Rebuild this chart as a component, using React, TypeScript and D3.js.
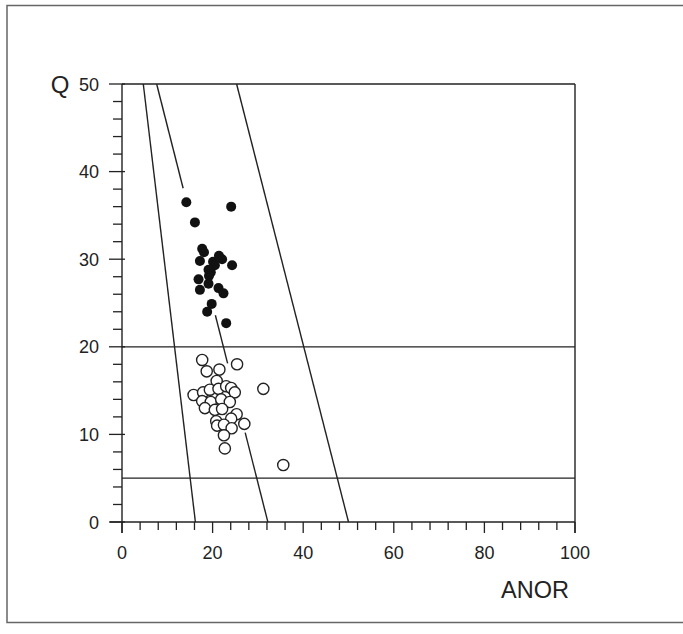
import React from "react";
import * as d3 from "d3";

// Filled symbols (Q > 20)
const filledANOR = [14.2, 24.1, 16.1, 17.7, 18.1, 17.2, 20.1, 21.4, 22.1, 24.3, 20.5, 19.6, 19.1, 16.9, 19.1, 17.2, 21.3, 22.4, 19.8, 18.8, 23.0, 19.2];
const filledQ = [36.5, 36.0, 34.2, 31.2, 30.8, 29.8, 29.7, 30.4, 30.0, 29.3, 29.3, 28.5, 28.8, 27.7, 27.2, 26.5, 26.7, 26.1, 24.9, 24.0, 22.7, 28.1];

// Open symbols (Q < 20)
const openANOR = [17.7, 25.4, 18.7, 21.5, 20.9, 15.8, 17.9, 19.4, 21.3, 23.0, 24.1, 24.9, 31.2, 17.7, 19.6, 21.9, 23.8, 18.3, 20.5, 22.1, 25.3, 20.8, 24.1, 21.0, 22.5, 27.0, 24.2, 22.5, 22.7, 35.6];
const openQ = [18.5, 18.0, 17.2, 17.4, 16.1, 14.5, 14.8, 15.1, 15.2, 15.5, 15.3, 14.8, 15.2, 13.8, 13.7, 14.0, 13.7, 13.0, 12.8, 12.9, 12.3, 11.5, 11.8, 11.0, 11.1, 11.2, 10.7, 9.9, 8.4, 6.5];

// Field boundary lines: [ANOR at Q=50, ANOR at Q=0], visible Q ranges
const boundaryTop = [4.7, 7.65, 25.3];
const boundaryBottom = [16.2, 32.2, 50.0];
const boundaryVisible: number[][][] = [
  [[0, 50]],
  [[38.1, 50], [18.1, 23.6], [0, 10.2]],
  [[0, 50]],
];
const horizontalQ = [20, 5];

const xTickLabels = [0, 20, 40, 60, 80, 100];
const yTickLabels = [0, 10, 20, 30, 40, 50];

export default function App() {
  const W = 683, H = 634;
  const x = d3.scaleLinear().domain([0, 100]).range([122, 575]);
  const y = d3.scaleLinear().domain([0, 50]).range([522, 84]);
  const ink = "#222";
  const font = "'Liberation Sans', Arial, Helvetica, sans-serif";
  const line = d3.line<[number, number]>().x(d => x(d[0])).y(d => y(d[1]));

  const xMinor = d3.range(0, 101, 4).filter(v => v % 20 !== 0);
  const yMinor = d3.range(0, 51, 2).filter(v => v % 10 !== 0);

  const segs: [number, number][][] = [];
  boundaryTop.forEach((t, i) => {
    const b = boundaryBottom[i];
    const at = (q: number) => b + (t - b) * q / 50;
    boundaryVisible[i].forEach(([q0, q1]) => {
      segs.push([[at(q0), q0], [at(q1), q1]]);
    });
  });

  return (
    <svg width={W} height={H} style={{ position: "absolute", left: 0, top: 0, background: "#fff" }}>
      {/* outer frame */}
      <rect x={7} y={5.5} width={690} height={617} fill="none" stroke="#666" strokeWidth={1.5} />

      {/* plot box */}
      <line x1={x(0)} y1={y(50)} x2={x(100)} y2={y(50)} stroke={ink} strokeWidth={1.4} />
      <line x1={x(100)} y1={y(50)} x2={x(100)} y2={y(0) + 11} stroke={ink} strokeWidth={1.4} />
      <line x1={x(0)} y1={y(50)} x2={x(0)} y2={y(0) + 11} stroke={ink} strokeWidth={1.4} />
      <line x1={x(0) - 12} y1={y(0)} x2={x(100)} y2={y(0)} stroke={ink} strokeWidth={1.4} />

      {/* x ticks */}
      {xMinor.map(v => (
        <line key={"xm" + v} x1={x(v)} x2={x(v)} y1={y(0)} y2={y(0) + 8} stroke={ink} strokeWidth={1.3} />
      ))}
      {xTickLabels.map(v => (
        <g key={"xM" + v}>
          <line x1={x(v)} x2={x(v)} y1={y(0)} y2={y(0) + 11} stroke={ink} strokeWidth={1.3} />
          <text x={x(v)} y={559} textAnchor="middle" fontFamily={font} fontSize={18} fill={ink}>{v}</text>
        </g>
      ))}

      {/* y ticks */}
      {yMinor.map(v => (
        <line key={"ym" + v} x1={x(0) - 9} x2={x(0)} y1={y(v)} y2={y(v)} stroke={ink} strokeWidth={1.3} />
      ))}
      {yTickLabels.map(v => (
        <g key={"yM" + v}>
          <line x1={x(0) - 13} x2={x(0) + 3} y1={y(v)} y2={y(v)} stroke={ink} strokeWidth={1.3} />
          <text x={99} y={y(v) + 6.5} textAnchor="end" fontFamily={font} fontSize={18} fill={ink}>{v}</text>
        </g>
      ))}

      {/* horizontal field lines */}
      {horizontalQ.map(q => (
        <line key={"h" + q} x1={x(0)} x2={x(100)} y1={y(q)} y2={y(q)} stroke={ink} strokeWidth={1.3} />
      ))}

      {/* boundary lines */}
      {segs.map((s, i) => (
        <path key={"s" + i} d={line(s) || ""} fill="none" stroke={ink} strokeWidth={1.4} />
      ))}

      {/* open symbols */}
      {openANOR.map((a, i) => (
        <circle key={"o" + i} cx={x(a)} cy={y(openQ[i])} r={5.6} fill="#fff" stroke={ink} strokeWidth={1.4} />
      ))}
      {/* filled symbols */}
      {filledANOR.map((a, i) => (
        <circle key={"f" + i} cx={x(a)} cy={y(filledQ[i])} r={5} fill="#111" />
      ))}

      {/* axis titles */}
      <text x={60} y={y(50) + 8.5} textAnchor="middle" fontFamily={font} fontSize={24} fill={ink}>Q</text>
      <text x={535} y={598} textAnchor="middle" fontFamily={font} fontSize={23.5} fill={ink}>ANOR</text>
    </svg>
  );
}
